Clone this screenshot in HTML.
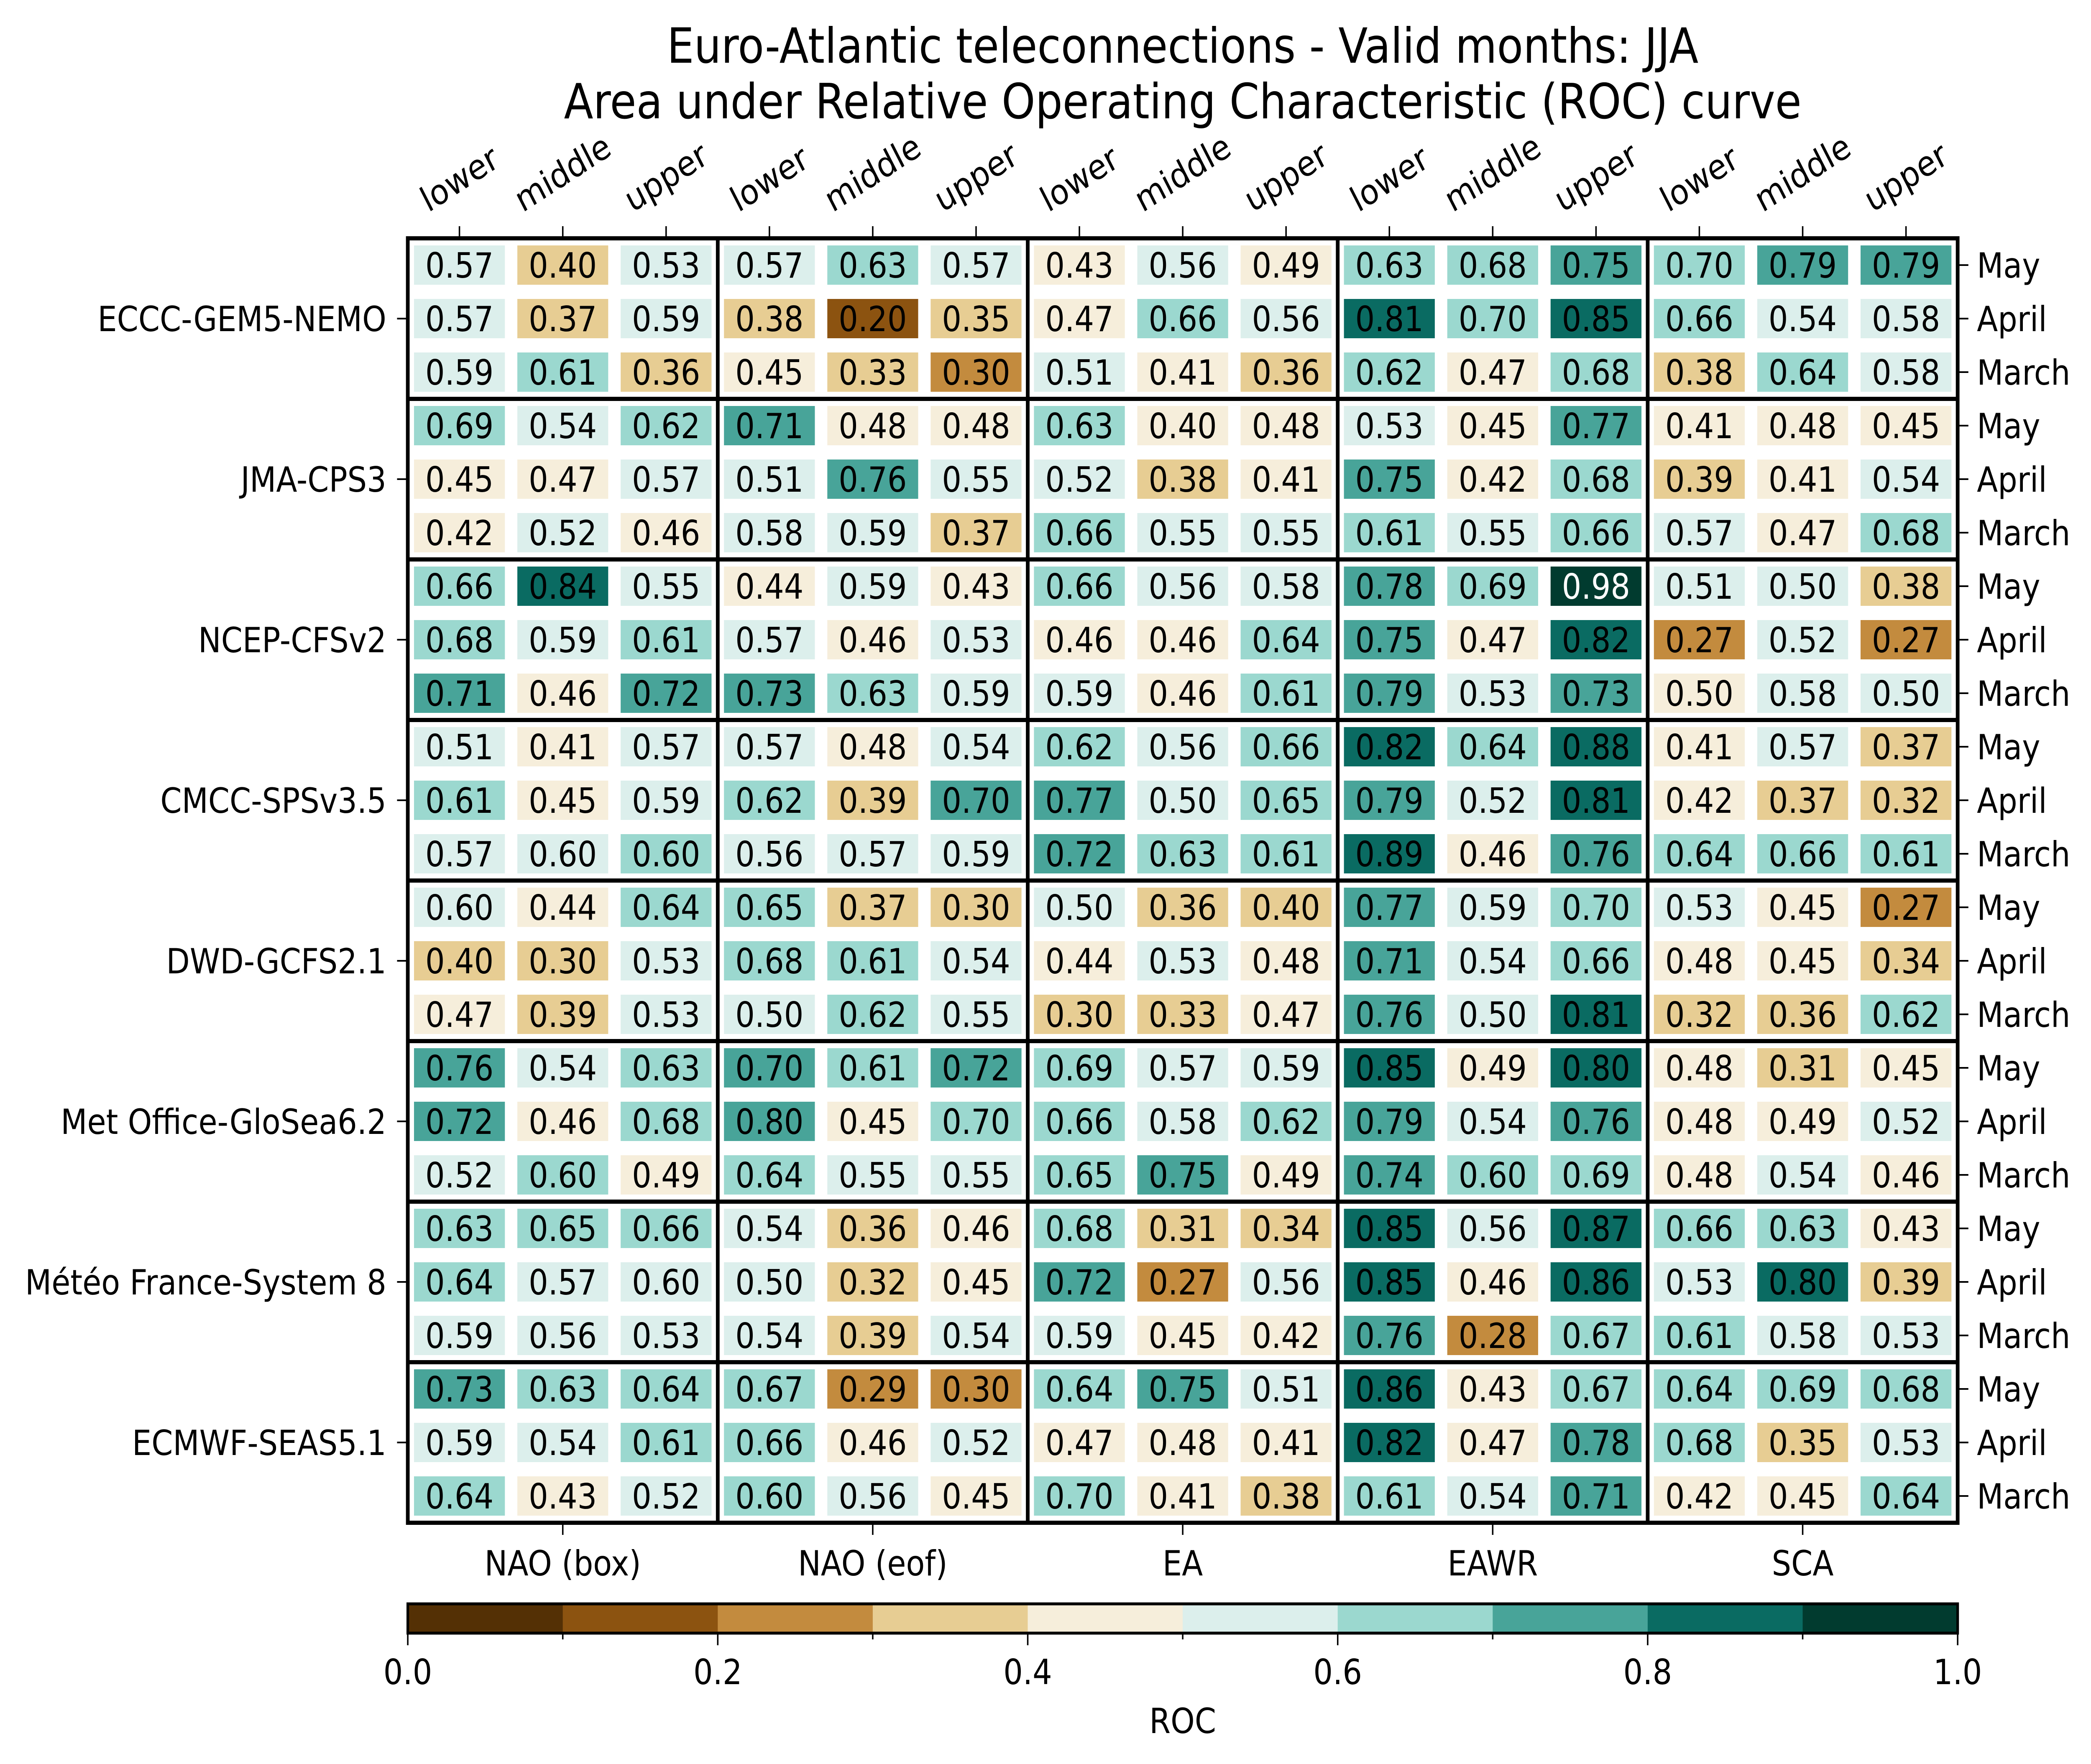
<!DOCTYPE html>
<html><head><meta charset="utf-8"><title>ROC heatmap</title>
<style>html,body{margin:0;padding:0;background:#fff;width:100%;height:100%;overflow:hidden}svg{display:block;width:100vw;height:100vh}text{font-family:"DejaVu Sans","Liberation Sans",sans-serif}</style>
</head><body>
<svg id="chart" xmlns="http://www.w3.org/2000/svg" viewBox="0 0 5661 4219" preserveAspectRatio="none">
<rect x="0" y="0" width="5661" height="4219" fill="#fff"/>
<text x="3202" y="150" font-size="116" text-anchor="middle">Euro-Atlantic teleconnections - Valid months: JJA</text>
<text x="3202" y="283" font-size="116" text-anchor="middle">Area under Relative Operating Characteristic (ROC) curve</text>
<g id="cells"></g>
<g id="axes"></g>
<g id="cbar"></g>
</svg>
<script>
const indices = ["NAO (box)","NAO (eof)","EA","EAWR","SCA"];
const terciles = ["lower","middle","upper"];
const models = ["ECCC-GEM5-NEMO","JMA-CPS3","NCEP-CFSv2","CMCC-SPSv3.5","DWD-GCFS2.1","Met Office-GloSea6.2","Météo France-System 8","ECMWF-SEAS5.1"];
const months = ["May","April","March"];
const cbarTicks = ["0.0","0.2","0.4","0.6","0.8","1.0"];
const rocValues = [
[0.57,0.398,0.53,0.57,0.63,0.57,0.43,0.56,0.49,0.63,0.68,0.75,0.698,0.79,0.79],
[0.57,0.37,0.59,0.38,0.198,0.35,0.47,0.66,0.56,0.81,0.698,0.85,0.66,0.54,0.58],
[0.59,0.61,0.36,0.45,0.33,0.298,0.51,0.41,0.36,0.62,0.47,0.68,0.38,0.64,0.58],
[0.69,0.54,0.62,0.71,0.48,0.48,0.63,0.402,0.48,0.53,0.45,0.77,0.41,0.48,0.45],
[0.45,0.47,0.57,0.51,0.76,0.55,0.52,0.38,0.41,0.75,0.42,0.68,0.39,0.41,0.54],
[0.42,0.52,0.46,0.58,0.59,0.37,0.66,0.55,0.55,0.61,0.55,0.66,0.57,0.47,0.68],
[0.66,0.84,0.55,0.44,0.59,0.43,0.66,0.56,0.58,0.78,0.69,0.98,0.51,0.502,0.38],
[0.68,0.59,0.61,0.57,0.46,0.53,0.46,0.46,0.64,0.75,0.47,0.82,0.27,0.52,0.27],
[0.71,0.46,0.72,0.73,0.63,0.59,0.59,0.46,0.61,0.79,0.53,0.73,0.498,0.58,0.502],
[0.51,0.41,0.57,0.57,0.48,0.54,0.62,0.56,0.66,0.82,0.64,0.88,0.41,0.57,0.37],
[0.61,0.45,0.59,0.62,0.39,0.702,0.77,0.502,0.65,0.79,0.52,0.81,0.42,0.37,0.32],
[0.57,0.598,0.602,0.56,0.57,0.59,0.72,0.63,0.61,0.89,0.46,0.76,0.64,0.66,0.61],
[0.598,0.44,0.64,0.65,0.37,0.302,0.502,0.36,0.398,0.77,0.59,0.698,0.53,0.45,0.27],
[0.398,0.302,0.53,0.68,0.61,0.54,0.44,0.53,0.48,0.71,0.54,0.66,0.48,0.45,0.34],
[0.47,0.39,0.53,0.502,0.62,0.55,0.302,0.33,0.47,0.76,0.502,0.81,0.32,0.36,0.62],
[0.76,0.54,0.63,0.702,0.61,0.72,0.69,0.57,0.59,0.85,0.49,0.802,0.48,0.31,0.45],
[0.72,0.46,0.68,0.798,0.45,0.698,0.66,0.58,0.62,0.79,0.54,0.76,0.48,0.49,0.52],
[0.52,0.602,0.49,0.64,0.55,0.55,0.65,0.75,0.49,0.74,0.602,0.69,0.48,0.54,0.46],
[0.63,0.65,0.66,0.54,0.36,0.46,0.68,0.31,0.34,0.85,0.56,0.87,0.66,0.63,0.43],
[0.64,0.57,0.598,0.502,0.32,0.45,0.72,0.27,0.56,0.85,0.46,0.86,0.53,0.802,0.39],
[0.59,0.56,0.53,0.54,0.39,0.54,0.59,0.45,0.42,0.76,0.28,0.67,0.61,0.58,0.53],
[0.73,0.63,0.64,0.67,0.29,0.298,0.64,0.75,0.51,0.86,0.43,0.67,0.64,0.69,0.68],
[0.59,0.54,0.61,0.66,0.46,0.52,0.47,0.48,0.41,0.82,0.47,0.78,0.68,0.35,0.53],
[0.64,0.43,0.52,0.602,0.56,0.45,0.698,0.41,0.38,0.61,0.54,0.71,0.42,0.45,0.64]
];
const palette = ["#543005","#8c5310","#c38b3e","#e7cd93","#f6eedb","#dcefec","#9bd8cf","#48a499","#0a6b62","#013b2f"];

const NS="http://www.w3.org/2000/svg";
const L=1104,R=5300,T=570,B=3642;
const nC=15,nR=24,cw=(R-L)/nC,rh=(B-T)/nR;
const xc=i=>L+cw*(i+0.5), yc=j=>T+rh*(j+0.5);
const CB_T=3836,CB_B=3906;
const xcb=v=>L+(R-L)*v;
function binColor(v){let k=Math.floor(v*10);k=Math.max(0,Math.min(9,k));return palette[k];}
function mk(tag,attrs,parent){const e=document.createElementNS(NS,tag);for(const k in attrs)e.setAttribute(k,attrs[k]);parent.appendChild(e);return e;}
const cells=document.getElementById('cells'),axes=document.getElementById('axes'),cbar=document.getElementById('cbar');

rocValues.forEach((row,j)=>{row.forEach((v,i)=>{
  const r=mk('rect',{x:xc(i)-123,y:yc(j)-47,width:246,height:94,fill:binColor(v)},cells);
  
  
  const t=mk('text',{x:xc(i),y:yc(j)+30,'font-size':83,'text-anchor':'middle',fill:(v>=0.9||v<0.1)?'#fff':'#000'},cells);
  
  
  t.textContent=v.toFixed(2);
});});

for(let g=1;g<5;g++){const x=L+cw*3*g;const l=mk('line',{x1:x,x2:x,y1:T,y2:B,stroke:'#000','stroke-width':10},axes);

}
for(let g=1;g<8;g++){const y=T+rh*3*g;const l=mk('line',{x1:L,x2:R,y1:y,y2:y,stroke:'#000','stroke-width':10},axes);

}
const frame=mk('rect',{x:L,y:T,width:R-L,height:B-T,fill:'none',stroke:'#000','stroke-width':10},axes);



for(let i=0;i<nC;i++){
  mk('line',{x1:xc(i),x2:xc(i),y1:T,y2:T-29,stroke:'#000','stroke-width':4},axes);
  const t=mk('text',{x:0,y:0,'font-size':83,'text-anchor':'middle','dominant-baseline':'central'},axes);
  
  
  t.textContent=terciles[i%3];
  let len=227;
  try{len=t.getComputedTextLength()||227;}catch(e){}
  const half=(len*0.5+63*0.866)/2;
  t.setAttribute('transform','translate('+xc(i)+','+(512-half)+') rotate(-30)');
}
for(let g=0;g<5;g++){
  const x=L+cw*(3*g+1.5);
  mk('line',{x1:x,x2:x,y1:B,y2:B+29,stroke:'#000','stroke-width':4},axes);
  const t=mk('text',{x:x,y:3768,'font-size':83,'text-anchor':'middle'},axes);
  
  
  t.textContent=indices[g];
}
for(let m=0;m<models.length;m++){
  const y=yc(3*m+1);
  mk('line',{x1:L,x2:L-29,y1:y,y2:y,stroke:'#000','stroke-width':4},axes);
  const t=mk('text',{x:1046,y:y+30,'font-size':83,'text-anchor':'end'},axes);
  
  
  t.textContent=models[m];
}
for(let j=0;j<nR;j++){
  const y=yc(j);
  mk('line',{x1:R,x2:R+29,y1:y,y2:y,stroke:'#000','stroke-width':4},axes);
  const t=mk('text',{x:5352,y:y+30,'font-size':83,'text-anchor':'start'},axes);
  
  
  t.textContent=months[j%3];
}
for(let k=0;k<10;k++){
  const r=mk('rect',{x:xcb(k/10),y:CB_T,width:(R-L)/10+1,height:CB_B-CB_T,fill:palette[k]},cbar);
  
  
}
const cbf=mk('rect',{x:L,y:CB_T,width:R-L,height:CB_B-CB_T,fill:'none',stroke:'#000','stroke-width':7},cbar);


for(let k=0;k<=10;k++){
  const x=xcb(k/10);
  mk('line',{x1:x,x2:x,y1:CB_B,y2:CB_B+(k%2===0?29:15),stroke:'#000','stroke-width':4},cbar);
}
cbarTicks.forEach((s,k)=>{
  const t=mk('text',{x:xcb(parseFloat(s)),y:4028,'font-size':83,'text-anchor':'middle'},cbar);
  
  
  t.textContent=s;
});
const cl=mk('text',{x:(L+R)/2,y:4145,'font-size':83,'text-anchor':'middle'},cbar);


cl.textContent='ROC';
</script>
</body></html>
